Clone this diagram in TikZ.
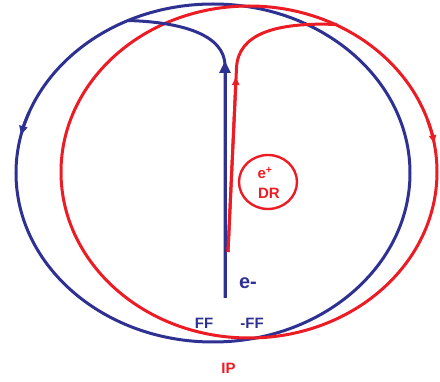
\documentclass[tikz,border=0pt]{standalone}
\usepackage{fontspec}
\setmainfont{Liberation Sans}
\usetikzlibrary{arrows.meta,calc}
\definecolor{ringblue}{RGB}{46,49,146}
\definecolor{ringred}{RGB}{236,28,36}
\tikzset{
  bline/.style={ringblue, line width=3pt},
  rline/.style={ringred, line width=3pt},
  btext/.style={text=ringblue, inner sep=0pt, font=\bfseries\fontsize{15}{17}\selectfont},
  rtext/.style={text=ringred, inner sep=0pt, font=\bfseries\fontsize{15}{17}\selectfont},
}
\begin{document}
\begin{tikzpicture}[x=1pt, y=-1pt]
    \useasboundingbox (0,0) rectangle (440,382);

    %% =========================================================
    %% RING CENTRES (pixel frame, y pointing down)
    %% =========================================================
    \coordinate (bc) at (213,173);
    \coordinate (rc) at (249,172);

    %% BLUE RING + its arrow on the left side
    \draw[bline] (bc) ellipse [x radius=197, y radius=169];
    \draw[bline, -{Triangle[length=9pt, width=8pt]}]
      ($(bc)+(201:197 and 169)$) arc[start angle=201, end angle=193, x radius=197, y radius=169];

    %% RED RING + its arrow on the right side
    \draw[rline] (rc) ellipse [x radius=188, y radius=166];
    \draw[rline, -{Triangle[length=8pt, width=7pt]}]
      ($(rc)+(342:188 and 166)$) arc[start angle=342, end angle=350, x radius=188, y radius=166];

    %% =========================================================
    %% BLUE STEM: up from the foot, bending into the blue ring
    %% =========================================================
    \coordinate (bfoot) at (225,298);
    \coordinate (btip)  at (225,61);
    \coordinate (bjoin) at (128,20.5);
    \draw[bline] (bfoot) -- (225,66) .. controls (225,34) and (180,22) .. (bjoin);
    \draw[bline, -{Triangle[length=12pt, width=11pt]}] (bfoot) -- (btip);

    %% =========================================================
    %% RED STEM: leaves the blue one, bending into the red ring
    %% =========================================================
    \coordinate (rfoot) at (228,252);
    \coordinate (rtip)  at (236.1,77);
    \coordinate (rjoin) at (337,24.5);
    \draw[rline] (rfoot) -- (236.5,68) .. controls (238,34) and (275,22) .. (rjoin);
    \draw[rline, -{Triangle[length=8pt, width=7pt]}] (rfoot) -- (rtip);

    %% DR ring
    \draw[rline, line width=2.4pt] (268,182) ellipse [x radius=29, y radius=27];
    \node[rtext] (epos) at (265,173) {e\textsuperscript{+}};
    \node[rtext] (dr)   at (269,193) {DR};

    %% LABELS
    \node[btext, font=\bfseries\fontsize{20}{22}\selectfont] (eneg) at (248,283) {e-};
    \node[btext] (ff)  at (204,323) {FF};
    \node[btext] (nff) at (252,323) {-FF};
    \node[rtext] (ip)  at (228.5,368) {IP};

\end{tikzpicture}
\end{document}
